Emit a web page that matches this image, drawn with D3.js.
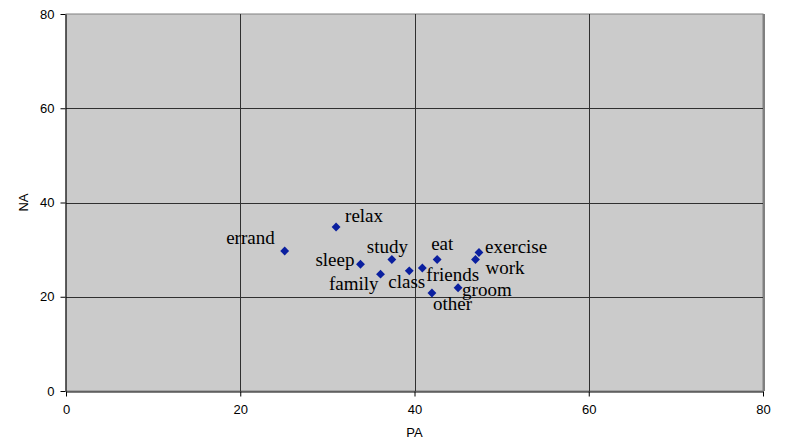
<!DOCTYPE html>
<html>
<head>
<meta charset="utf-8">
<script src="https://cdn.jsdelivr.net/npm/d3@7"></script>
<style>
  body { margin: 0; background: #fff; }
  .tick text { font-family: "Liberation Sans", Arial, sans-serif; font-size: 13px; fill: #000; }
  .ptlabel { font-family: "Liberation Serif", "Times New Roman", serif; font-size: 19px; fill: #000; }
</style>
</head>
<body>
<svg id="chart" width="785" height="445"></svg>
<script>
let activities = ["errand", "relax", "sleep", "family", "study", "class", "friends", "eat", "other", "groom", "work", "exercise"];
let paValues = [25.1, 31.0, 33.8, 36.1, 37.4, 39.4, 40.9, 42.6, 42.0, 45.0, 47.0, 47.4];
let naValues = [29.7, 34.8, 26.9, 24.8, 27.9, 25.5, 26.1, 27.9, 20.8, 21.9, 27.9, 29.4];
let tickValues = [0, 20, 40, 60, 80];

// label placement relative to the marker (anchor, dx, dy)
let labelPlace = {
  errand:   ["end",   -10, -7],
  relax:    ["start",   9, -5],
  sleep:    ["end",    -6,  2],
  family:   ["end",    -2, 16],
  study:    ["start", -25, -7],
  class:    ["start", -21, 17],
  friends:  ["start",   4, 13],
  eat:      ["start",  -6, -10],
  other:    ["start",   1, 17],
  groom:    ["start",   4,  8],
  work:     ["start",  10, 14],
  exercise: ["start",   6,  1]
};

let points = activities.map((d, i) => ({name: d, pa: paValues[i], na: naValues[i]}));

let svg = d3.select('#chart');
let plotL = 66, plotR = 763, plotT = 14, plotB = 391;

let x = d3.scaleLinear().domain([0, 80]).range([plotL, plotR]);
let y = d3.scaleLinear().domain([0, 80]).range([plotB, plotT]);

// plot area
svg.append("rect")
   .attr("x", plotL)
   .attr("y", plotT)
   .attr("width", plotR - plotL)
   .attr("height", plotB - plotT)
   .attr("fill", "#cbcbcb")
   .attr("stroke", "#808080")
   .attr("stroke-width", 1)

svg.append("line")
   .attr("x1", plotR + 1).attr("x2", plotR + 1)
   .attr("y1", plotT).attr("y2", plotB)
   .attr("stroke", "#808080")
   .attr("stroke-width", 2)

// gridlines
svg.selectAll(".hgrid")
   .data(tickValues.slice(1, -1))
   .enter()
   .append("line")
   .attr("class", "hgrid")
   .attr("x1", plotL).attr("x2", plotR)
   .attr("y1", d => Math.round(y(d)) + 0.5)
   .attr("y2", d => Math.round(y(d)) + 0.5)
   .attr("stroke", "#303030")
   .attr("stroke-width", 1)

svg.selectAll(".vgrid")
   .data(tickValues.slice(1, -1))
   .enter()
   .append("line")
   .attr("class", "vgrid")
   .attr("y1", plotT).attr("y2", plotB)
   .attr("x1", d => Math.round(x(d)) + 0.5)
   .attr("x2", d => Math.round(x(d)) + 0.5)
   .attr("stroke", "#303030")
   .attr("stroke-width", 1)

// axes
let xAxis = svg.append("g")
   .attr("transform", "translate(0," + (plotB + 0.5) + ")")
   .call(d3.axisBottom(x).tickValues(tickValues).tickSize(5).tickPadding(8).tickSizeOuter(0))
xAxis.select(".domain").attr("stroke", "#000")

let yAxis = svg.append("g")
   .attr("transform", "translate(" + (plotL - 0.5) + ",0)")
   .call(d3.axisLeft(y).tickValues(tickValues).tickSize(5).tickPadding(6).tickSizeOuter(0))
yAxis.select(".domain").attr("stroke", "#000")

// axis titles
svg.append("text")
   .attr("x", (plotL + plotR) / 2)
   .attr("y", 437)
   .attr("text-anchor", "middle")
   .attr("font-family", "Liberation Sans, Arial, sans-serif")
   .attr("font-size", 13)
   .text("PA")

svg.append("text")
   .attr("transform", "translate(28," + (plotT + plotB) / 2 + ") rotate(-90)")
   .attr("text-anchor", "middle")
   .attr("font-family", "Liberation Sans, Arial, sans-serif")
   .attr("font-size", 13)
   .text("NA")

// markers
svg.selectAll(".pt")
   .data(points)
   .enter()
   .append("path")
   .attr("class", "pt")
   .attr("d", d3.symbol().type(d3.symbolDiamond2).size(50))
   .attr("transform", d => "translate(" + x(d.pa) + "," + y(d.na) + ")")
   .attr("fill", "#0a1f9f")

// labels
svg.selectAll(".ptlabel")
   .data(points)
   .enter()
   .append("text")
   .attr("class", "ptlabel")
   .attr("x", d => x(d.pa) + labelPlace[d.name][1])
   .attr("y", d => y(d.na) + labelPlace[d.name][2])
   .attr("text-anchor", d => labelPlace[d.name][0])
   .text(d => d.name)
</script>
</body>
</html>
